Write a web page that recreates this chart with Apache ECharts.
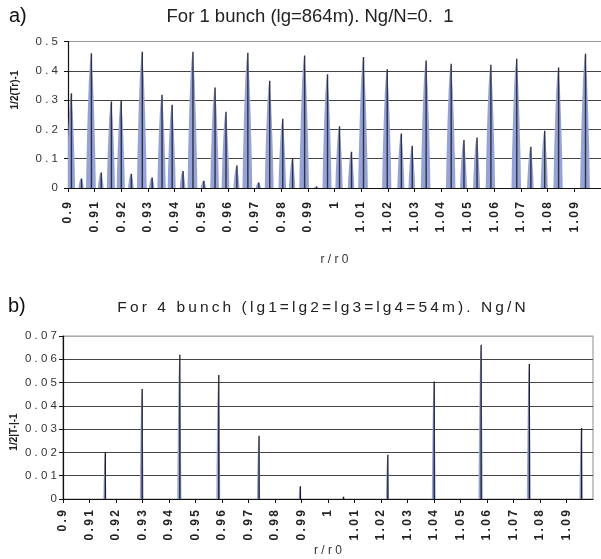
<!DOCTYPE html>
<html>
<head>
<meta charset="utf-8">
<script src="https://cdn.jsdelivr.net/npm/echarts@6/dist/echarts.min.js"></script>
<style>
  html, body { margin: 0; padding: 0; background: #ffffff; }
  #chart { width: 601px; height: 559px; }
</style>
</head>
<body>
<div id="chart"></div>
<script>
// ---- Data ----
// Panel a) spike positions (r/r0) and peak heights
const xA = [0.9011, 0.9049, 0.9086, 0.9123, 0.9161, 0.9198, 0.9236, 0.9277, 0.9314, 0.9351,
            0.9389, 0.9430, 0.9467, 0.9508, 0.9550, 0.9591, 0.9632, 0.9673, 0.9714, 0.9755,
            0.9804, 0.9841, 0.9886, 0.9931, 0.9972, 1.0017, 1.0062, 1.0107, 1.0196, 1.0249,
            1.0290, 1.0342, 1.0436, 1.0484, 1.0533, 1.0585, 1.0682, 1.0735, 1.0787, 1.0839,
            1.0940];
const yA = [0.323, 0.032, 0.460, 0.053, 0.295, 0.300, 0.049, 0.465, 0.036, 0.318,
            0.284, 0.058, 0.465, 0.025, 0.343, 0.260, 0.077, 0.462, 0.019, 0.366,
            0.236, 0.100, 0.452, 0.005, 0.388, 0.211, 0.124, 0.447, 0.405, 0.186,
            0.144, 0.435, 0.424, 0.164, 0.172, 0.421, 0.441, 0.141, 0.195, 0.411,
            0.458];
// Panel b) spike positions and peak heights
const xB = [0.9158, 0.9297, 0.9439, 0.9586, 0.9738, 0.9894, 1.0057, 1.0224, 1.0399, 1.0576, 1.0758, 1.0955];
const yB = [0.0200, 0.0472, 0.0620, 0.0532, 0.0272, 0.0055, 0.0010, 0.0190, 0.0505, 0.0662, 0.0580, 0.0305];

const titleA = 'For 1 bunch (lg=864m). Ng/N=0.  1';
const titleB = 'For 4 bunch (lg1=lg2=lg3=lg4=54m). Ng/N';
const yNameA = '1/2(Tr)-1';
const yNameB = '1/2|T-|-1';
const xName = 'r / r 0';

// ---- Helpers ----
const TS = '\u2009';
function spaced(s, sep) { return s.split('').join(sep); }
function xLabel(v) { return spaced(String(parseFloat(v.toFixed(2))), TS); }

function spikeRenderer(hwBase, hwScale, fill, lineColor, lineW) {
  // profile: fraction of height -> fraction of half width
  const prof = [[0, 1], [0.25, 0.88], [0.55, 0.66], [0.8, 0.42], [0.93, 0.2], [1, 0]];
  return function (params, api) {
    const x = api.value(0), y = api.value(1);
    const b = api.coord([x, 0]);
    const t = api.coord([x, y]);
    const h = b[1] - t[1];
    const hw = hwBase + hwScale * h;
    const left = [], right = [];
    prof.forEach(function (p) {
      const yy = b[1] - p[0] * h;
      left.push([b[0] - p[1] * hw, yy]);
      right.unshift([b[0] + p[1] * hw, yy]);
    });
    right.shift();
    return {
      type: 'group',
      children: [
        { type: 'polygon', shape: { points: left.concat(right) }, style: { fill: fill } },
        { type: 'line', shape: { x1: b[0] + 0.5, y1: t[1], x2: b[0] + 0.5, y2: b[1] },
          style: { stroke: lineColor, lineWidth: lineW } }
      ]
    };
  };
}

const FONT = '"Liberation Sans", Arial, sans-serif';

function xAxisCfg(gridIndex, margin, nameGap) {
  return {
    type: 'value', gridIndex: gridIndex, min: 0.9, max: 1.1, interval: 0.01,
    axisLine: { show: true, lineStyle: { color: '#111', width: 1.2 } },
    axisTick: { show: true, length: 4, lineStyle: { color: '#111', width: 1 } },
    splitLine: { show: false },
    axisLabel: {
      rotate: 90, margin: margin, showMaxLabel: false,
      formatter: xLabel,
      fontFamily: FONT, fontWeight: 'bold', fontSize: 12, color: '#222'
    },
    name: xName, nameLocation: 'middle', nameGap: nameGap,
    nameTextStyle: { fontFamily: FONT, fontSize: 12, color: '#333' }
  };
}

const chart = echarts.init(document.getElementById('chart'), null, { renderer: 'canvas' });

const option = {
  backgroundColor: '#ffffff',
  animation: false,
  grid: [
    { left: 68, right: -2, top: 41.5, bottom: 371, containLabel: false },
    { left: 63, right: 8, top: 336, bottom: 60, containLabel: false,
      show: true, borderColor: '#a0a0a0', borderWidth: 1.2, backgroundColor: 'transparent' }
  ],
  xAxis: [xAxisCfg(0, 14, 66), xAxisCfg(1, 11, 43)],
  yAxis: [
    {
      type: 'value', gridIndex: 0, min: 0, max: 0.5, interval: 0.1,
      axisLine: { show: true, lineStyle: { color: '#111', width: 1.2 } },
      axisTick: { show: true, length: 4, lineStyle: { color: '#111' } },
      splitLine: { show: true, lineStyle: { color: ['#444', '#444', '#444', '#444', '#444', '#999'], width: 1.2 } },
      axisLabel: {
        margin: 10, fontFamily: FONT, fontSize: 11.5, color: '#333',
        formatter: function (v) { return v === 0 ? '0' : spaced(v.toFixed(1), ' '); }
      }
    },
    {
      type: 'value', gridIndex: 1, min: 0, max: 0.07, interval: 0.01,
      axisLine: { show: true, lineStyle: { color: '#111', width: 1.2 } },
      axisTick: { show: true, length: 4, lineStyle: { color: '#111' } },
      splitLine: { show: true, lineStyle: { color: ['#444', '#444', '#444', '#444', '#444', '#444', '#444', '#aaa'], width: 1.2 } },
      axisLabel: {
        margin: 6, fontFamily: FONT, fontSize: 11.5, color: '#333',
        formatter: function (v) { return v === 0 ? '0' : spaced(v.toFixed(2), ' '); }
      }
    }
  ],
  series: [
    {
      type: 'custom', name: 'a', xAxisIndex: 0, yAxisIndex: 0, clip: true,
      renderItem: spikeRenderer(2.6, 0.017, '#95a3d6', '#2e3044', 1.4),
      encode: { x: 0, y: 1 },
      data: xA.map(function (x, i) { return [x, yA[i]]; })
    },
    {
      type: 'custom', name: 'b', xAxisIndex: 1, yAxisIndex: 1, clip: true,
      renderItem: spikeRenderer(1.2, 0.006, '#95a3d6', '#1e1f2a', 1.3),
      encode: { x: 0, y: 1 },
      data: xB.map(function (x, i) { return [x, yB[i]]; })
    }
  ],
  graphic: [
    { type: 'text', x: 9, y: 16, style: { text: 'a)', font: '20px ' + FONT, fill: '#111', textAlign: 'left', textVerticalAlign: 'middle', align: 'left', verticalAlign: 'middle' } },
    { type: 'text', x: 310, y: 16.5, style: { text: titleA, font: '18.5px ' + FONT, fill: '#222', textAlign: 'center', textVerticalAlign: 'middle', align: 'center', verticalAlign: 'middle' } },
    { type: 'text', x: 8, y: 306, style: { text: 'b)', font: '20px ' + FONT, fill: '#111', textAlign: 'left', textVerticalAlign: 'middle', align: 'left', verticalAlign: 'middle' } },
    { type: 'text', x: 321.5, y: 307.5, style: { text: spaced(titleB, TS), font: '15.5px ' + FONT, fill: '#222', textAlign: 'center', textVerticalAlign: 'middle', align: 'center', verticalAlign: 'middle' } },
    { type: 'text', x: 15, y: 90, rotation: Math.PI / 2, style: { text: yNameA, font: 'bold 10px ' + FONT, fill: '#222', textAlign: 'center', textVerticalAlign: 'middle', align: 'center', verticalAlign: 'middle' } },
    { type: 'text', x: 14, y: 432, rotation: Math.PI / 2, style: { text: yNameB, font: 'bold 10px ' + FONT, fill: '#222', textAlign: 'center', textVerticalAlign: 'middle', align: 'center', verticalAlign: 'middle' } }
  ]
};

chart.setOption(option);
</script>
</body>
</html>
